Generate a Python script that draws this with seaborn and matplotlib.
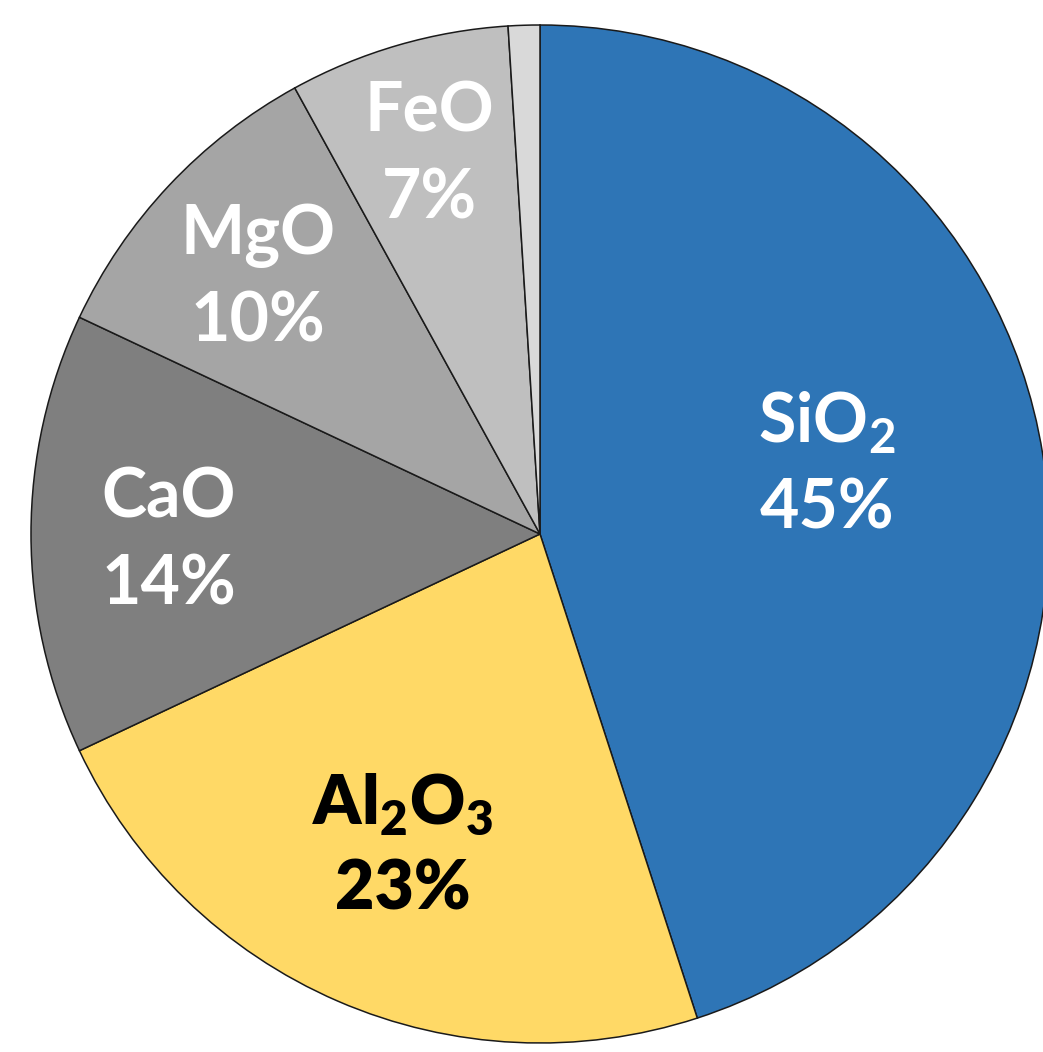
import numpy as np
import matplotlib
matplotlib.use("Agg")
import matplotlib.pyplot as plt
import seaborn as sns

# oxide composition
oxides = ["SiO$_\\mathregular{2}$", "Al$_\\mathregular{2}$O$_\\mathregular{3}$",
          "CaO", "MgO", "FeO", ""]
shares = [45, 23, 14, 10, 7, 1]
pct_text = ["45%", "23%", "14%", "10%", "7%", ""]
colors = ["#2E75B6", "#FFD966", "#7F7F7F", "#A5A5A5", "#BFBFBF", "#D9D9D9"]
text_colors = ["white", "black", "white", "white", "white", "white"]
weights = [700, 800, 700, 700, 700, 700]
label_r = [0.57, 0.68, 0.73, 0.76, 0.78, 0.0]
label_dy = [0.044, 0.009, -0.015, -0.019, -0.005, 0.0]

sns.set_theme(style="white")
plt.rcParams["font.family"] = ["Lato", "DejaVu Sans"]
plt.rcParams["mathtext.fontset"] = "custom"
plt.rcParams["mathtext.rm"] = "Lato"

fig = plt.figure(figsize=(10.43, 10.52), dpi=100)
ax = fig.add_axes([31 / 1043, 9 / 1052, 1018 / 1043, 1018 / 1052])

wedges, _ = ax.pie(shares, colors=colors, startangle=90, counterclock=False,
                   wedgeprops=dict(edgecolor="#1a1a1a", linewidth=1.1))
ax.set_xlim(-1, 1)
ax.set_ylim(-1, 1)
ax.axis("off")

for w, name, pct, tc, fw, r, dy in zip(wedges, oxides, pct_text, text_colors,
                                       weights, label_r, label_dy):
    if not name:
        continue
    ang = np.deg2rad((w.theta1 + w.theta2) / 2)
    x, y = r * np.cos(ang), r * np.sin(ang) + dy
    ax.text(x, y + 0.085, name, ha="center", va="center", color=tc,
            fontsize=49, fontweight=fw)
    ax.text(x, y - 0.085, pct, ha="center", va="center", color=tc,
            fontsize=49, fontweight=fw)

fig.savefig("out.png", dpi=100)
